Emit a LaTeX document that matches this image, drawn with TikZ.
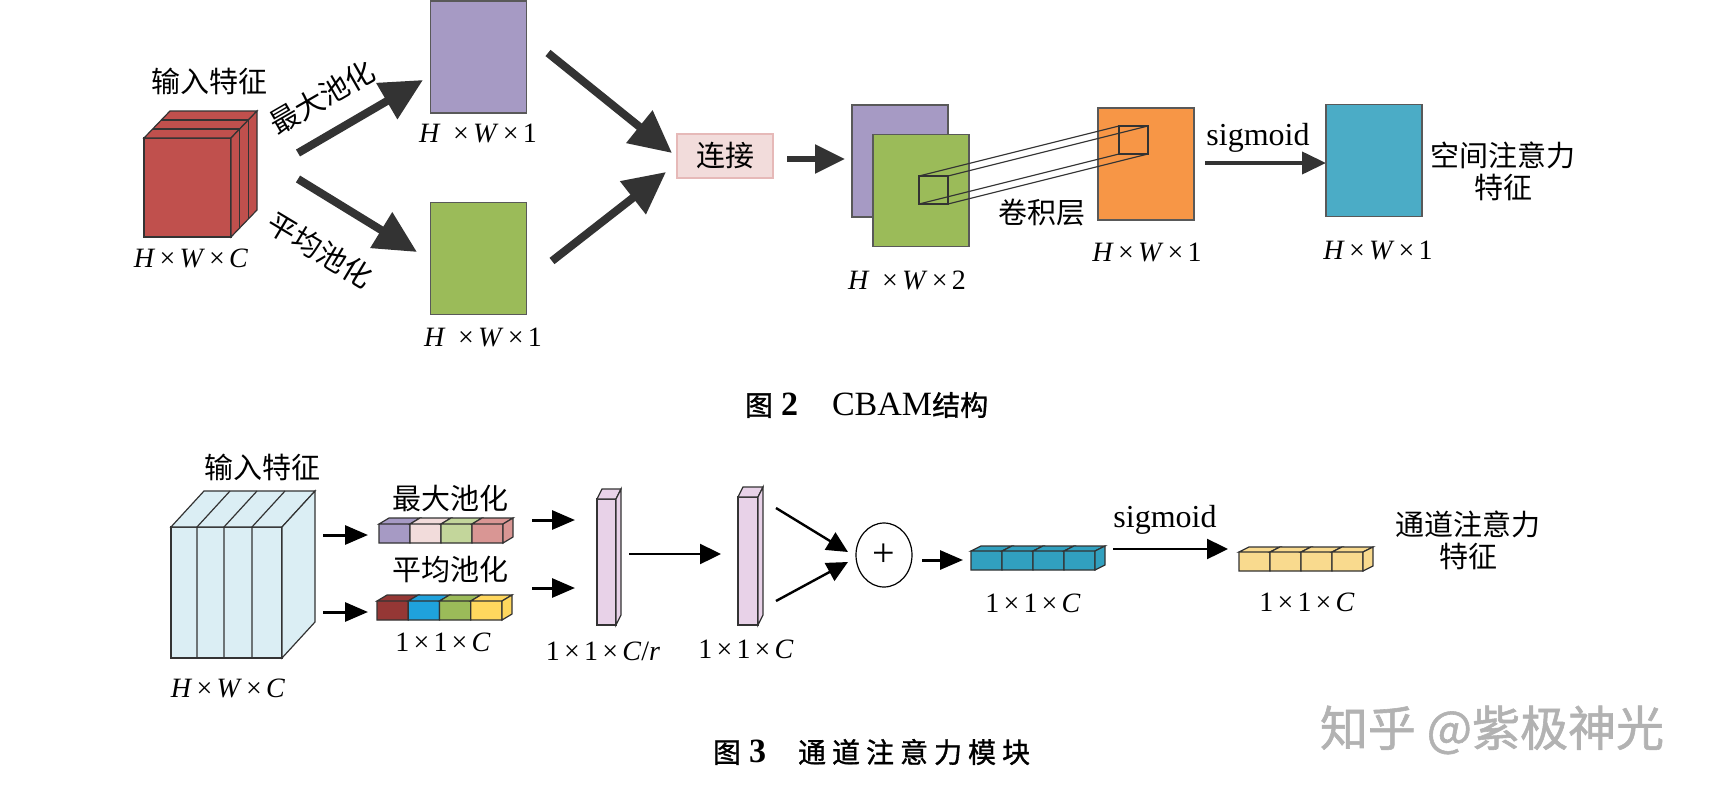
\documentclass[tikz,border=0pt]{standalone}
\usepackage{fontspec}
\setmainfont{Liberation Serif}
\newfontfamily\cjk{Noto Sans CJK SC}
\newfontfamily\cjkbf[FakeBold=1.2]{Noto Sans CJK SC}
\usetikzlibrary{arrows.meta,shapes.geometric}

\definecolor{cubered}{HTML}{C0504D}
\definecolor{mappurple}{HTML}{A69AC4}
\definecolor{mapgreen}{HTML}{9BBB59}
\definecolor{maporange}{HTML}{F79646}
\definecolor{mapblue}{HTML}{4BACC6}
\definecolor{catpink}{HTML}{F2DCDB}
\definecolor{catborder}{HTML}{E6B9B8}
\definecolor{cubeblue}{HTML}{DBEEF4}
\definecolor{poolpink}{HTML}{F2DCDB}
\definecolor{poollgreen}{HTML}{C3D69B}
\definecolor{poolsalmon}{HTML}{D99694}
\definecolor{poolred}{HTML}{953735}
\definecolor{poolblue}{HTML}{1FA2DC}
\definecolor{poolyellow}{HTML}{FFD75E}
\definecolor{fcpink}{HTML}{E8D2E8}
\definecolor{chanteal}{HTML}{31A0BF}
\definecolor{chanyellow}{HTML}{F9DA8E}
\definecolor{arrowgray}{HTML}{333333}
\definecolor{edgegray}{HTML}{595959}

\newcommand{\mult}{\hspace{.15em}×\hspace{.15em}}

\tikzset{
  zh/.style={font=\cjk\fontsize{14.5}{16}\selectfont},
  dimlab/.style={font=\fontsize{14}{16}\selectfont},
  sigtext/.style={font=\fontsize{16}{18}\selectfont},
  fmap/.style={draw=edgegray, line width=0.6pt, inner sep=0pt, outer sep=0pt, minimum width=48pt, minimum height=56pt},
  outline/.style={draw=black!80, line width=0.6pt},
  bigarrow/.style={draw=arrowgray, line width=4pt, -{Triangle[length=21pt,width=20pt]}},
  midarrow/.style={draw=arrowgray, line width=2.8pt, -{Triangle[length=15pt,width=14pt]}},
  sigarrow/.style={draw=arrowgray, line width=2pt, -{Triangle[length=12pt,width=11pt]}},
  blkarrow/.style={draw=black, line width=1.5pt, -{Triangle[length=11.5pt,width=9.5pt]}},
  thinarrow/.style={draw=black, line width=1.2pt, -{Triangle[length=10.5pt,width=10pt]}},
}

\begin{document}
\begin{tikzpicture}[x=0.5pt, y=-0.5pt]
	\useasboundingbox (0,0) rectangle (1720,798);

	% CBAM: spatial attention
	\node[zh] (intxt) at (209,81) {输入特征};
	\draw[outline, fill=cubered] (144,138) rectangle (231,237);
	\draw[outline, fill=cubered] (144,138) -- (170,111) -- (257,111) -- (231,138) -- cycle;
	\draw[outline, fill=cubered] (231,138) -- (257,111) -- (257,210) -- (231,237) -- cycle;
	\draw[outline] (152.7,129) -- (239.7,129) -- (239.7,228);
	\draw[outline] (161.3,120) -- (248.3,120) -- (248.3,219);
	\node[dimlab] (indim) at (191,258) {\textit{H}\mult\textit{W}\mult\textit{C}};

	\coordinate (in1) at (298,153);
	\coordinate (max1) at (423,80);
	\coordinate (in2) at (298,179);
	\coordinate (avg1) at (417,252);
	\draw[bigarrow] (in1) -- (max1);
	\draw[bigarrow] (in2) -- (avg1);
	\node[zh, rotate=30] (maxtxt) at (322,97) {最大池化};
	\node[zh, rotate=-31] (avgtxt) at (320,250) {平均池化};

	\node[fmap, fill=mappurple] (maxmap) at (478.5,57) {};
	\node[dimlab] (maxdim) at (478,133) {\textit{H}\hspace{.3em}\mult\textit{W}\mult 1};
	\node[fmap, fill=mapgreen] (avgmap) at (478.5,258.5) {};
	\node[dimlab] (avgdim) at (483,337) {\textit{H}\hspace{.3em}\mult\textit{W}\mult 1};

	\node[zh, draw=catborder, fill=catpink, line width=0.6pt, inner sep=0pt,
		minimum width=48pt, minimum height=22pt] (cat) at (725,156) {连接};
	\coordinate (max2) at (548,53);
	\coordinate (cat1) at (672,153);
	\coordinate (avg2) at (552,261);
	\coordinate (cat2) at (666,172);
	\draw[bigarrow] (max2) -- (cat1);
	\draw[bigarrow] (avg2) -- (cat2);

	\coordinate (cat3) at (787,159);
	\coordinate (stk1) at (845,159);
	\draw[midarrow] (cat3) -- (stk1);
	\node[fmap, fill=mappurple] (stkback) at (900,161) {};
	\node[fmap, fill=mapgreen] (stkfront) at (921,190.5) {};
	\node[dimlab] (stkdim) at (907,280) {\textit{H}\hspace{.3em}\mult\textit{W}\mult 2};

	\node[fmap, fill=maporange] (convmap) at (1146,164) {};
	\node[dimlab] (convdim) at (1147,252) {\textit{H}\mult\textit{W}\mult 1};
	\coordinate (n1) at (919,176);
	\coordinate (n2) at (948,176);
	\coordinate (n3) at (948,204);
	\coordinate (n4) at (919,204);
	\coordinate (f1) at (1119,126);
	\coordinate (f2) at (1148,126);
	\coordinate (f3) at (1148,154);
	\coordinate (f4) at (1119,154);
	\draw[outline] (n1) rectangle (n3) (f1) rectangle (f3);
	\draw[outline] (n1) -- (f1) (n2) -- (f2) (n3) -- (f3) (n4) -- (f4);
	\node[zh] (convtxt) at (1042,213) {卷积层};

	\node[sigtext] (sigtxt) at (1258,138) {sigmoid};
	\coordinate (sig1) at (1205,163);
	\coordinate (sig2) at (1326,163);
	\draw[sigarrow] (sig1) -- (sig2);
	\node[fmap, fill=mapblue] (attmap) at (1374,160.5) {};
	\node[dimlab] (attdim) at (1378,250) {\textit{H}\mult\textit{W}\mult 1};
	\node[zh, align=center] (atttxt) at (1503,171) {空间注意力\\特征};

	\node[anchor=west, font=\fontsize{14}{16}\selectfont] (cap2) at (738,405)
		{{\cjkbf 图}\hspace{4pt}{\bfseries\fontsize{17}{17}\selectfont 2}\hspace{17pt}{\fontsize{17}{17}\selectfont CBAM}{\cjkbf 结构}};

	% channel attention
	\node[zh] (cintxt) at (262,467) {输入特征};
	\draw[outline, fill=cubeblue] (171,527) rectangle (282,658);
	\draw[outline, fill=cubeblue] (171,527) -- (204,491) -- (315,491) -- (282,527) -- cycle;
	\draw[outline, fill=cubeblue] (282,527) -- (315,491) -- (315,622) -- (282,658) -- cycle;
	\foreach \x in {197,224,252}
		\draw[outline] (\x,658) -- (\x,527) -- ++(33,-36);
	\node[dimlab] (cindim) at (228,688) {\textit{H}\mult\textit{W}\mult\textit{C}};

	\coordinate (cin1) at (323,535);
	\coordinate (mx1) at (368,535);
	\coordinate (cin2) at (323,612);
	\coordinate (av1) at (368,612);
	\draw[blkarrow] (cin1) -- (mx1);
	\draw[blkarrow] (cin2) -- (av1);

	\node[zh] (mxtxt) at (450,498) {最大池化};
	\foreach \c [count=\i from 0] in {mappurple,poolpink,poollgreen,poolsalmon}
		\draw[outline, fill=\c] (379+31*\i,524) rectangle ++(31,19)
			(379+31*\i,524) -- ++(10,-6) -- ++(31,0) -- ++(-10,6) -- cycle;
	\draw[outline, fill=poolsalmon] (503,524) -- ++(10,-6) -- ++(0,19) -- ++(-10,6) -- cycle;
	\node[zh] (avtxt) at (450,570) {平均池化};
	\foreach \c [count=\i from 0] in {poolred,poolblue,mapgreen,poolyellow}
		\draw[outline, fill=\c] (377+31.25*\i,601) rectangle ++(31.25,19)
			(377+31.25*\i,601) -- ++(10,-6) -- ++(31.25,0) -- ++(-10,6) -- cycle;
	\draw[outline, fill=poolyellow] (502,601) -- ++(10,-6) -- ++(0,19) -- ++(-10,6) -- cycle;
	\node[dimlab] (pooldim) at (443,642) {1\mult 1\mult\textit{C}};

	\coordinate (mx2) at (532,520);
	\coordinate (fca) at (575,520);
	\coordinate (av2) at (532,588);
	\coordinate (fcb) at (575,588);
	\draw[blkarrow] (mx2) -- (fca);
	\draw[blkarrow] (av2) -- (fcb);

	\draw[outline, fill=fcpink] (597,499) rectangle (616,625);
	\draw[outline, fill=fcpink] (597,499) -- ++(5,-10) -- ++(19,0) -- ++(-5,10) -- cycle;
	\draw[outline, fill=fcpink] (616,499) -- ++(5,-10) -- ++(0,126) -- ++(-5,10) -- cycle;
	\node[dimlab] (fc1dim) at (603,651) {1\mult 1\mult\textit{C}/\textit{r}};

	\coordinate (fc1) at (629,554);
	\coordinate (fc2) at (721,554);
	\draw[thinarrow] (fc1) -- (fc2);

	\draw[outline, fill=fcpink] (738,497) rectangle (758,625);
	\draw[outline, fill=fcpink] (738,497) -- ++(5,-10) -- ++(20,0) -- ++(-5,10) -- cycle;
	\draw[outline, fill=fcpink] (758,497) -- ++(5,-10) -- ++(0,128) -- ++(-5,10) -- cycle;
	\node[dimlab] (fc2dim) at (746,649) {1\mult 1\mult\textit{C}};

	\node[draw, ellipse, line width=0.6pt, inner sep=0pt, minimum width=28pt, minimum height=32pt,
		font=\fontsize{20}{20}\selectfont] (add) at (884,555) {+};
	\coordinate (fc2a) at (776,508);
	\coordinate (add1) at (848,552);
	\coordinate (fc2b) at (776,601);
	\coordinate (add2) at (848,562);
	\draw[thinarrow] (fc2a) -- (add1);
	\draw[thinarrow] (fc2b) -- (add2);

	\coordinate (add3) at (922,560);
	\coordinate (tl1) at (963,560);
	\draw[blkarrow] (add3) -- (tl1);
	\foreach \i in {0,...,3}
		\draw[outline, fill=chanteal] (971+31*\i,551) rectangle ++(31,19)
			(971+31*\i,551) -- ++(10,-5) -- ++(31,0) -- ++(-10,5) -- cycle;
	\draw[outline, fill=chanteal] (1095,551) -- ++(10,-5) -- ++(0,19) -- ++(-10,5) -- cycle;
	\node[dimlab] (tldim) at (1033,603) {1\mult 1\mult\textit{C}};

	\node[sigtext] (sgtxt) at (1165,520) {sigmoid};
	\coordinate (sg1) at (1113,549);
	\coordinate (sg2) at (1228,549);
	\draw[thinarrow] (sg1) -- (sg2);
	\foreach \i in {0,...,3}
		\draw[outline, fill=chanyellow] (1239+31*\i,552) rectangle ++(31,19)
			(1239+31*\i,552) -- ++(10,-5) -- ++(31,0) -- ++(-10,5) -- cycle;
	\draw[outline, fill=chanyellow] (1363,552) -- ++(10,-5) -- ++(0,19) -- ++(-10,5) -- cycle;
	\node[dimlab] (yldim) at (1307,602) {1\mult 1\mult\textit{C}};
	\node[zh, align=center] (chtxt) at (1468,540) {通道注意力\\特征};

	\node[anchor=west, font=\cjkbf\fontsize{14}{16}\selectfont] (cap3) at (706,752)
		{图\hspace{4pt}{\rmfamily\bfseries\fontsize{17}{17}\selectfont 3}\hspace{16pt}通\hspace{3pt}道\hspace{3pt}注\hspace{3pt}意\hspace{3pt}力\hspace{3pt}模\hspace{3pt}块};

	\node[font=\cjkbf\fontsize{24}{26}\selectfont, text=black!30] (mark) at (1492,730) {知乎 @紫极神光};
\end{tikzpicture}
\end{document}
